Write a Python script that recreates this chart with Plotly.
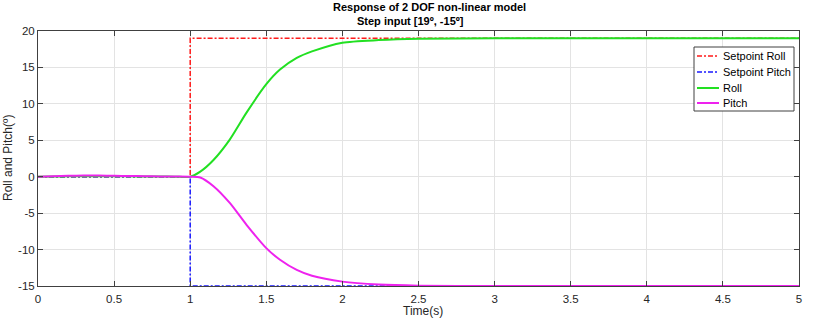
import plotly.graph_objects as go

# ---- data ----
sp_t = [0, 1, 1, 5]
sp_roll = [0, 0, 19, 19]
sp_pitch = [0, 0, -15, -15]

t = [0, 0.1, 0.2, 0.3, 0.4, 0.5, 0.6, 0.7, 0.8, 0.9, 1.0, 1.066, 1.153, 1.26,
     1.37, 1.5, 1.59, 1.7, 1.8, 2.0, 2.24, 2.5, 3.0, 3.5, 4.0, 4.5, 5.0]
roll = [0, 0.03, 0.06, 0.07, 0.07, 0.06, 0.05, 0.03, 0.02, 0.01, 0.0, 0.7, 2.3, 5.1,
        8.8, 12.7, 14.7, 16.3, 17.2, 18.4, 18.75, 18.93, 19.0, 19.0, 19.0, 19.0, 19.0]
pitch = [0, 0.08, 0.13, 0.15, 0.15, 0.13, 0.1, 0.07, 0.04, 0.02, 0.0, -0.1, -1.3, -3.6,
         -6.6, -9.8, -11.4, -12.8, -13.6, -14.4, -14.8, -14.95, -15.0, -15.0, -15.0, -15.0, -15.0]

x_ticks = [0, 0.5, 1, 1.5, 2, 2.5, 3, 3.5, 4, 4.5, 5]
x_labels = ["0", "0.5", "1", "1.5", "2", "2.5", "3", "3.5", "4", "4.5", "5"]
y_ticks = [-15, -10, -5, 0, 5, 10, 15, 20]
y_labels = ["-15", "-10", "-5", "0", "5", "10", "15", "20"]

series_names = ["Setpoint Roll", "Setpoint Pitch", "Roll", "Pitch"]
series_colors = ["#ff1a1a", "#1a1aff", "#22e022", "#ee22ee"]
DASH = "5px,2px,2px,2px"
series_dash = [DASH, DASH, "solid", "solid"]
series_width = [1.5, 1.5, 2, 2]

FONT = "Liberation Sans, Arial, sans-serif"
TXT = "#262626"

# plot area in pixels (for layout helpers)
W, H = 814, 318
L, R, T, B = 38, 15, 31, 32
PW, PH = W - L - R, H - T - B


def px(xp):
    return (xp - L) / PW


def py(yp):
    return (H - B - yp) / PH


fig = go.Figure()
xs = [sp_t, sp_t, t, t]
ys = [sp_roll, sp_pitch, roll, pitch]
for i in range(4):
    line = dict(color=series_colors[i], width=series_width[i], dash=series_dash[i])
    if i >= 2:
        line.update(shape="spline", smoothing=0.7)
    fig.add_trace(go.Scatter(x=xs[i], y=ys[i], mode="lines", name=series_names[i],
                             line=line, showlegend=False))

axis_common = dict(showline=True, linecolor="#404040", linewidth=1, mirror="ticks",
                   ticks="inside", ticklen=5, tickcolor="#404040",
                   showgrid=True, gridcolor="#e3e3e3", gridwidth=1, zeroline=False,
                   tickfont=dict(family=FONT, size=11.5, color=TXT))

fig.update_xaxes(range=[0, 5], tickvals=x_ticks, ticktext=x_labels,
                 ticklabelstandoff=2, **axis_common)
fig.update_yaxes(range=[-15, 20], tickvals=y_ticks, ticktext=y_labels, **axis_common)

annotations = [
    dict(text="<b>Response of 2 DOF non-linear model</b>", xref="paper", yref="paper",
         x=px(429), y=py(7), xanchor="center", yanchor="middle", showarrow=False,
         font=dict(family=FONT, size=11, color="#000000")),
    dict(text="<b>Step input [19º, -15º]</b>", xref="paper", yref="paper",
         x=px(410), y=py(21), xanchor="center", yanchor="middle", showarrow=False,
         font=dict(family=FONT, size=11, color="#000000")),
    dict(text="Time(s)", xref="paper", yref="paper", x=px(423), y=py(319),
         xanchor="center", yanchor="bottom", showarrow=False, borderpad=0,
         font=dict(family=FONT, size=12, color=TXT)),
    dict(text="Roll and Pitch(º)", xref="paper", yref="paper", x=px(8), y=py(158),
         xanchor="center", yanchor="middle", textangle=-90, showarrow=False,
         font=dict(family=FONT, size=12, color=TXT)),
]

# manual legend (MATLAB-style compact box)
shapes = [dict(type="rect", xref="paper", yref="paper", x0=px(694), x1=px(794),
               y0=py(111), y1=py(47), line=dict(color="#404040", width=1),
               fillcolor="white", layer="above")]
row_y = [56, 72, 88, 103]
for i in range(4):
    shapes.append(dict(type="line", xref="paper", yref="paper", x0=px(697), x1=px(719),
                       y0=py(row_y[i]), y1=py(row_y[i]), layer="above",
                       line=dict(color=series_colors[i], width=series_width[i],
                                 dash=series_dash[i])))
    annotations.append(dict(text=series_names[i], xref="paper", yref="paper",
                            x=px(721), y=py(row_y[i]), xanchor="left", yanchor="middle",
                            showarrow=False,
                            font=dict(family=FONT, size=11, color="#000000")))

fig.update_layout(
    width=W, height=H,
    margin=dict(l=L, r=R, t=T, b=B),
    paper_bgcolor="white", plot_bgcolor="white",
    font=dict(family=FONT, size=11, color=TXT),
    showlegend=False,
    annotations=annotations,
    shapes=shapes,
)

fig.write_html("out.html")
